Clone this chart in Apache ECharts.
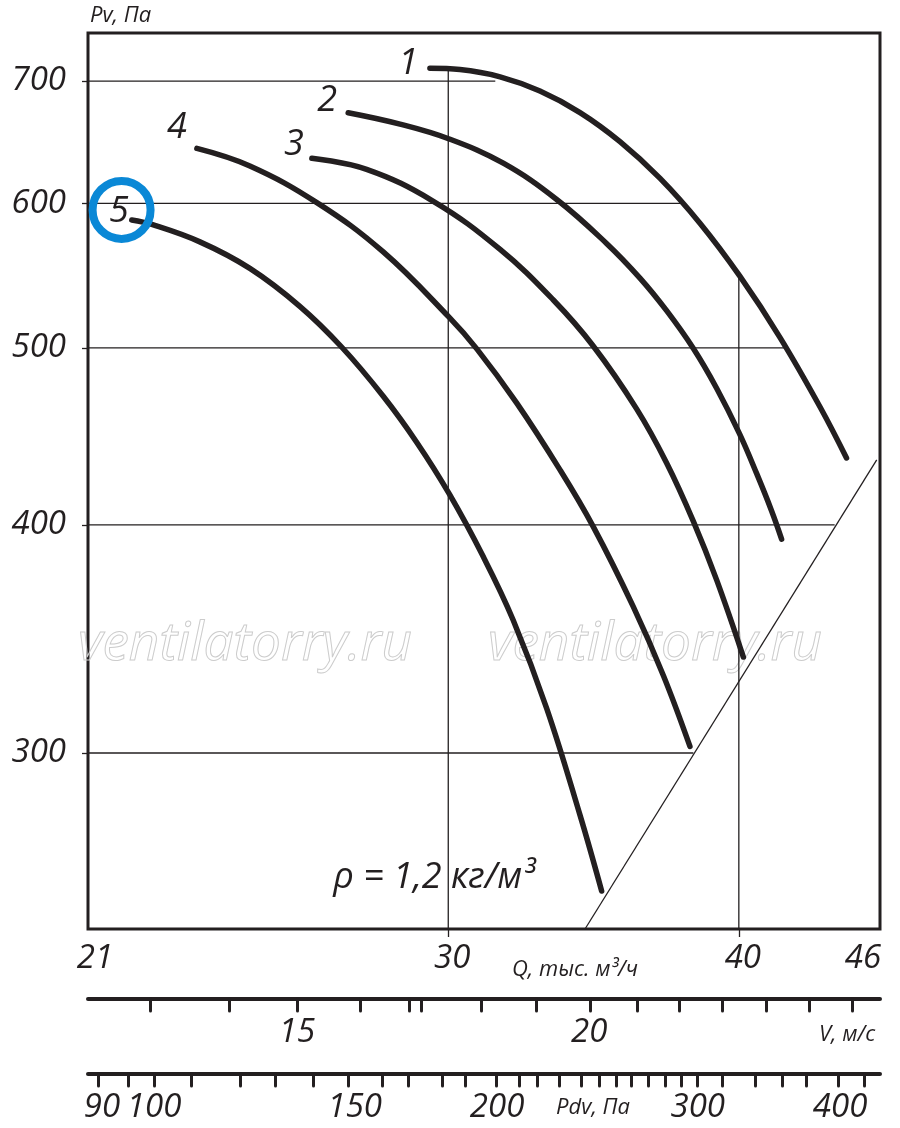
<!DOCTYPE html>
<html>
<head>
<meta charset="utf-8">
<title>Pv - Q</title>
<script src="https://cdn.jsdelivr.net/npm/echarts@6/dist/echarts.min.js"></script>
<style>
html, body { margin: 0; padding: 0; background: #fff; }
#chart { width: 900px; height: 1128px; }
</style>
</head>
<body>
<div id="chart"></div>
<script>
var ink = '#231f20';
var font = '"Open Sans", "Noto Sans", sans-serif';

// fan curves: [Q, тыс. м3/ч ; Pv, Па]
var curve1 = [[29.46, 711.3], [30.35, 710.2], [31.58, 703.7], [32.85, 691.2], [34.18, 672.7], [35.56, 648.5], [37.00, 619.1], [38.49, 585.1], [40.04, 547.3], [41.66, 506.7], [43.35, 464.1], [44.50, 435.2]];
var curve2 = [[27.17, 672.6], [28.60, 663.0], [30.03, 650.7], [31.68, 631.1], [33.41, 602.7], [35.09, 570.4], [36.27, 546.0], [37.24, 524.0], [38.24, 499.6], [39.13, 475.2], [40.02, 448.9], [40.71, 426.8], [41.32, 407.1], [41.73, 392.9]];
var curve3 = [[26.21, 635.0], [27.67, 626.2], [29.56, 601.5], [31.58, 566.1], [33.29, 531.1], [34.63, 501.2], [36.15, 463.0], [37.24, 432.5], [38.24, 401.8], [39.13, 373.2], [40.18, 338.6]];
var curve4 = [[23.39, 643.0], [24.65, 628.9], [26.34, 600.5], [28.13, 564.3], [30.03, 519.6], [30.86, 499.4], [32.10, 466.5], [33.51, 428.7], [34.63, 399.1], [36.03, 360.8], [37.12, 330.8], [38.11, 302.5]];
var curve5 = [[21.93, 587.5], [22.37, 584.2], [23.46, 571.5], [24.65, 552.7], [25.90, 526.9], [27.00, 500.4], [28.13, 470.4], [29.08, 443.8], [30.03, 415.9], [31.06, 384.2], [31.99, 354.8], [33.07, 317.4], [34.18, 277.4], [34.92, 252.1]];
var curves = [curve1, curve2, curve3, curve4, curve5];

var curveNames = ['1', '2', '3', '4', '5'];
var namePos = [[28.83, 715.2], [26.61, 682.6], [25.75, 645.8], [22.93, 659.7], [21.65, 593.5]];
var ringPos = [[21.71, 595.0]];

// system line (network characteristic)
var systemLine = [[34.35, 240.3], [45.85, 434.2]];

// partial grid lines
var gridLines = [
    [[21, 700], [31.43, 700]],
    [[21, 600], [37.80, 600]],
    [[21, 500], [41.9, 500]],
    [[21, 400], [43.98, 400]],
    [[21, 300], [38.24, 300]],
    [[30, 710.5], [30, 240.3]],
    [[40, 549], [40, 240.3]]
];

// axes
var qMin = 21, qMax = 46;
var pMin = 240.3, pMax = 743.7;
var qLabels = [21, 30, 40, 46];
var qTicks = [30, 40];
var pLabels = [300, 400, 500, 600, 700];

var vMin = 12.21, vMax = 26.63;
var vTicks = [12.98, 14.03, 15, 15.96, 16.75, 16.95, 17.98, 18.98, 20.03, 20.96, 21.86, 22.81, 23.8, 24.83, 25.9];
var vLabels = [15, 20];

var pdvMin = 87.5, pdvMax = 433.6;
var pdvTicks = [89.3, 94.9, 100, 107.8, 119, 127.7, 137.9, 148, 158.6, 167.1, 178.9, 187.5, 199.6, 209.1, 217, 227, 237, 245.9, 254.7, 262.3, 271.5, 281.2, 290, 299.5, 315.3, 336.9, 356.2, 373.4, 398.6, 420.1];
var pdvLabels = [90, 100, 150, 200, 300, 400];

var labelText = { fontSize: 33, fontStyle: 'italic', fontFamily: font, color: ink };

function scaleAxis(grid, min, max, ticks, labels) {
    return {
        gridIndex: grid,
        type: 'log',
        logBase: 10,
        min: min,
        max: max,
        position: 'bottom',
        axisLine: { show: true, lineStyle: { color: ink, width: 4, cap: 'round' } },
        axisTick: { show: true, customValues: ticks, length: 12, lineStyle: { color: ink, width: 3, cap: 'round' } },
        axisLabel: Object.assign({ customValues: labels, margin: 17 }, labelText),
        splitLine: { show: false },
        minorTick: { show: false }
    };
}

var series = [];

gridLines.forEach(function (seg) {
    series.push({
        type: 'line',
        data: seg,
        symbol: 'none',
        silent: true,
        z: 1,
        lineStyle: { color: ink, width: 1.3 }
    });
});

series.push({
    type: 'line',
    data: systemLine,
    symbol: 'none',
    silent: true,
    z: 1,
    lineStyle: { color: ink, width: 1.3 }
});

curves.forEach(function (c, i) {
    series.push({
        name: curveNames[i],
        type: 'line',
        data: c,
        symbol: 'none',
        smooth: 0.4,
        z: 3,
        lineStyle: { color: ink, width: 5.5, cap: 'round' }
    });
});

series.push({
    type: 'scatter',
    symbolSize: 1,
    itemStyle: { color: 'rgba(0,0,0,0)', opacity: 1 },
    z: 4,
    data: curveNames.map(function (n, i) {
        return { name: n, value: namePos[i] };
    }),
    label: {
        show: true,
        position: 'inside',
        formatter: '{b}',
        fontSize: 36,
        fontStyle: 'italic',
        fontFamily: font,
        color: ink
    }
});

series.push({
    type: 'scatter',
    data: ringPos,
    symbol: 'circle',
    symbolSize: 58,
    z: 5,
    itemStyle: { color: 'rgba(0,0,0,0)', borderColor: '#0a88d6', borderWidth: 8, opacity: 1 }
});

var chart = echarts.init(document.getElementById('chart'));

var option = {
    backgroundColor: '#fff',
    animation: false,
    grid: [
        { left: 88, top: 33, width: 792, height: 896, show: true, borderColor: ink, borderWidth: 3 },
        { left: 88, top: 989, width: 792, height: 10 },
        { left: 88, top: 1064, width: 792, height: 10 }
    ],
    xAxis: [
        {
            gridIndex: 0,
            type: 'log',
            logBase: 10,
            min: qMin,
            max: qMax,
            axisLine: { show: false },
            axisTick: { show: true, customValues: qTicks, length: 8, lineStyle: { color: ink, width: 1.3 } },
            axisLabel: Object.assign({
                customValues: qLabels,
                margin: 13,
                formatter: function (v) {
                    var r = Math.round(v);
                    if (r === 21) return '{l|21}';
                    if (r === 46) return '{r|46}';
                    return '{n|' + r + '}';
                },
                rich: {
                    l: Object.assign({ padding: [0, 0, 0, 14] }, labelText),
                    r: Object.assign({ padding: [0, 34, 0, 0] }, labelText),
                    n: Object.assign({ padding: [0, 0, 0, 8] }, labelText)
                }
            }, labelText),
            splitLine: { show: false },
            minorTick: { show: false }
        },
        scaleAxis(1, vMin, vMax, vTicks, vLabels),
        scaleAxis(2, pdvMin, pdvMax, pdvTicks, pdvLabels)
    ],
    yAxis: [
        {
            gridIndex: 0,
            type: 'log',
            logBase: 10,
            min: pMin,
            max: pMax,
            axisLine: { show: false },
            axisTick: { show: true, customValues: pLabels, length: 6, lineStyle: { color: ink, width: 1.3 } },
            axisLabel: Object.assign({ customValues: pLabels, margin: 22 }, labelText),
            splitLine: { show: false },
            minorTick: { show: false }
        },
        { gridIndex: 1, type: 'value', show: false },
        { gridIndex: 2, type: 'value', show: false }
    ],
    graphic: [
        {
            type: 'text', x: 245, y: 645, z: 0, silent: true,
            style: { text: 'ventilatorry.ru', font: 'italic 53px ' + font, textAlign: 'center', textVerticalAlign: 'middle', fill: 'rgba(0,0,0,0)', stroke: '#cccccc', lineWidth: 1 }
        },
        {
            type: 'text', x: 655, y: 645, z: 0, silent: true,
            style: { text: 'ventilatorry.ru', font: 'italic 53px ' + font, textAlign: 'center', textVerticalAlign: 'middle', fill: 'rgba(0,0,0,0)', stroke: '#cccccc', lineWidth: 1 }
        },
        {
            type: 'text', x: 90, y: 16, z: 10,
            style: { text: 'Pv, Па', font: 'italic 22px ' + font, textAlign: 'left', textVerticalAlign: 'middle', fill: ink }
        },
        {
            type: 'text', x: 575, y: 970, z: 10,
            style: { text: 'Q, тыс. м³/ч', font: 'italic 22px ' + font, textAlign: 'center', textVerticalAlign: 'middle', fill: ink }
        },
        {
            type: 'text', x: 847, y: 1035, z: 10,
            style: { text: 'V, м/с', font: 'italic 22px ' + font, textAlign: 'center', textVerticalAlign: 'middle', fill: ink }
        },
        {
            type: 'text', x: 593, y: 1108, z: 10,
            style: { text: 'Pdv, Па', font: 'italic 22px ' + font, textAlign: 'center', textVerticalAlign: 'middle', fill: ink }
        },
        {
            type: 'text', x: 434, y: 878, z: 10,
            style: { text: 'ρ = 1,2 кг/м³', font: 'italic 36px ' + font, textAlign: 'center', textVerticalAlign: 'middle', fill: ink }
        }
    ],
    series: series
};

option && chart.setOption(option);
</script>
</body>
</html>
